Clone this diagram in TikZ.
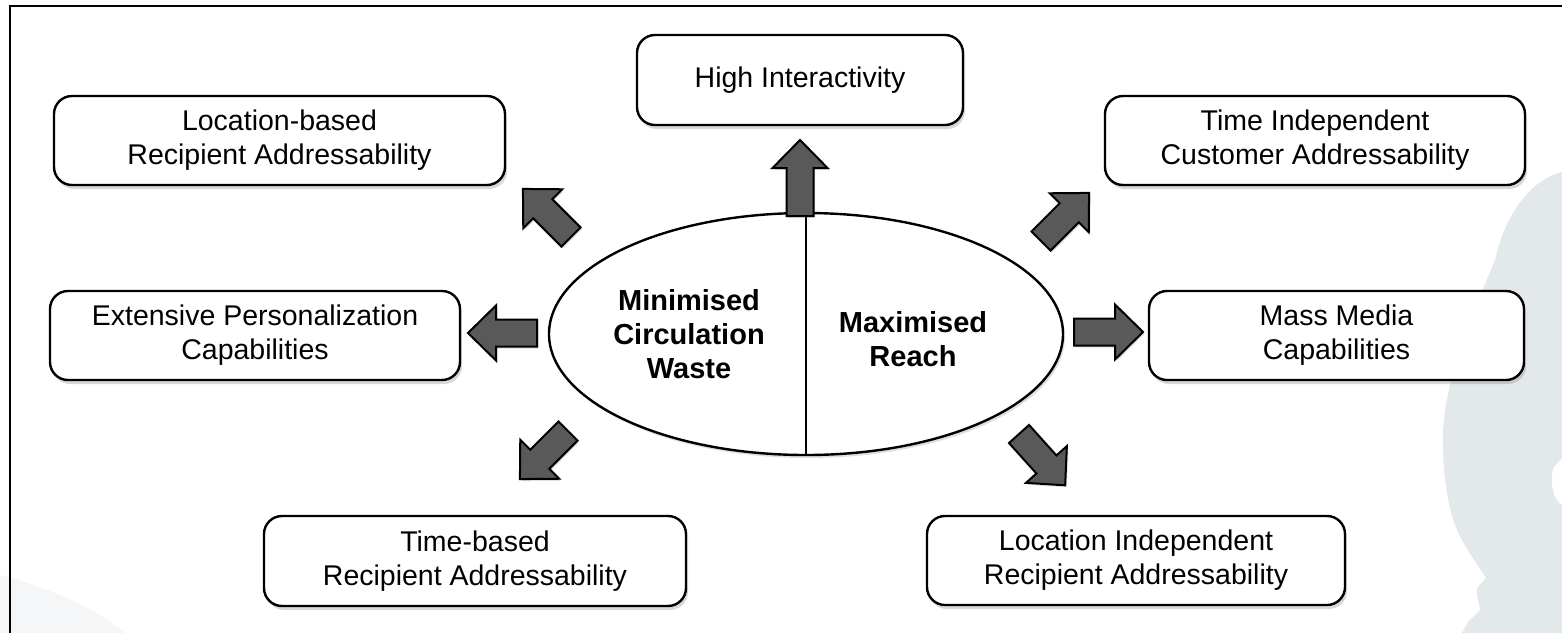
\documentclass[tikz,border=0pt]{standalone}
\usepackage{fontspec}
\setmainfont{Liberation Sans}
\usetikzlibrary{shapes.geometric,shadows}
\definecolor{arrowgrey}{HTML}{595959}
\definecolor{silhouette}{HTML}{E3E8EA}
\definecolor{faintgrey}{HTML}{F4F6F7}
\newcommand{\blockarrow}[3]{%
  \begin{scope}[shift={(#1)},rotate=#2]
    \draw[blockarrowstyle] (0,13.5) -- ({#3-28},13.5) -- ({#3-28},27.5) -- (#3,0)
      -- ({#3-28},-27.5) -- ({#3-28},-13.5) -- (0,-13.5) -- cycle;
  \end{scope}}
\begin{document}
\begin{tikzpicture}[x=1pt,y=-1pt,
  box/.style={draw, line width=2.4pt, rounded corners=18pt, fill=white, align=center,
    font=\fontsize{28.5}{34}\selectfont, inner sep=0pt,
    drop shadow={opacity=0.3, shadow xshift=2pt, shadow yshift=-4pt}},
  boldtext/.style={align=center, font=\fontsize{29}{34}\selectfont\bfseries, inner sep=0pt},
  blockarrowstyle/.style={draw=black, line width=2pt, fill=arrowgrey, line join=miter,
    drop shadow={opacity=0.25, shadow xshift=1.5pt, shadow yshift=-2pt}},
  frameline/.style={line width=2.5pt}]
\useasboundingbox (0,0) rectangle (1562,633);
\fill[white] (0,0) rectangle (1562,633);
% background decorations
\fill[faintgrey] (0,575) .. controls (50,588) and (95,608) .. (125,633) -- (0,633) -- cycle;
\fill[silhouette] (1562,172) .. controls (1530,180) and (1505,215) .. (1495,260)
  .. controls (1470,320) and (1445,380) .. (1443,433)
  .. controls (1442,480) and (1450,520) .. (1462,540)
  .. controls (1470,555) and (1478,565) .. (1486,578)
  -- (1477,588) .. controls (1476,598) and (1480,605) .. (1480,610)
  -- (1468,622) -- (1462,633) -- (1562,633) -- (1562,505)
  .. controls (1553,500) and (1550,485) .. (1553,468) -- (1562,458) -- cycle;
% frame
\draw[frameline] (10,633) -- (10,6) -- (1562,6);
% boxes
\node[box, minimum width=326pt, minimum height=90pt] (hi) at (800,80) {High Interactivity};
\node[box, minimum width=451pt, minimum height=89pt] (lb) at (279.5,140.5) {Location-based\\Recipient Addressability};
\node[box, minimum width=420pt, minimum height=89pt] (ti) at (1315,140.5) {Time Independent\\Customer Addressability};
\node[box, minimum width=410pt, minimum height=89pt] (ep) at (255,335.5) {Extensive Personalization\\Capabilities};
\node[box, minimum width=375pt, minimum height=89pt] (mm) at (1336.5,335.5) {Mass Media\\Capabilities};
\node[box, minimum width=422pt, minimum height=90pt] (tb) at (475,561) {Time-based\\Recipient Addressability};
\node[box, minimum width=418pt, minimum height=89pt] (li) at (1136,560.5) {Location Independent\\Recipient Addressability};
% central ellipse
\node[ellipse, draw, line width=2.4pt, fill=white, minimum width=514pt, minimum height=242pt,
  inner sep=0pt, drop shadow={opacity=0.25, shadow xshift=2pt, shadow yshift=-3pt}] (el) at (806,334) {};
\draw[line width=2.6pt] (el.north) -- (el.south);
\node[boldtext] (mcw) at (689,334) {Minimised\\Circulation\\Waste};
\node[boldtext] (mr) at (913,339) {Maximised\\Reach};
% arrows
\coordinate (aup) at (800,216);
\coordinate (aul) at (571,237);
\coordinate (aur) at (1041,241);
\coordinate (al) at (537,333);
\coordinate (ar) at (1074,332);
\coordinate (adl) at (568,431);
\coordinate (adr) at (1019,434);
\blockarrow{aup}{90}{76}
\blockarrow{aul}{135}{68}
\blockarrow{aur}{45}{68}
\blockarrow{al}{180}{69}
\blockarrow{ar}{0}{69}
\blockarrow{adl}{225}{68}
\blockarrow{adr}{-48}{69}
\end{tikzpicture}
\end{document}
